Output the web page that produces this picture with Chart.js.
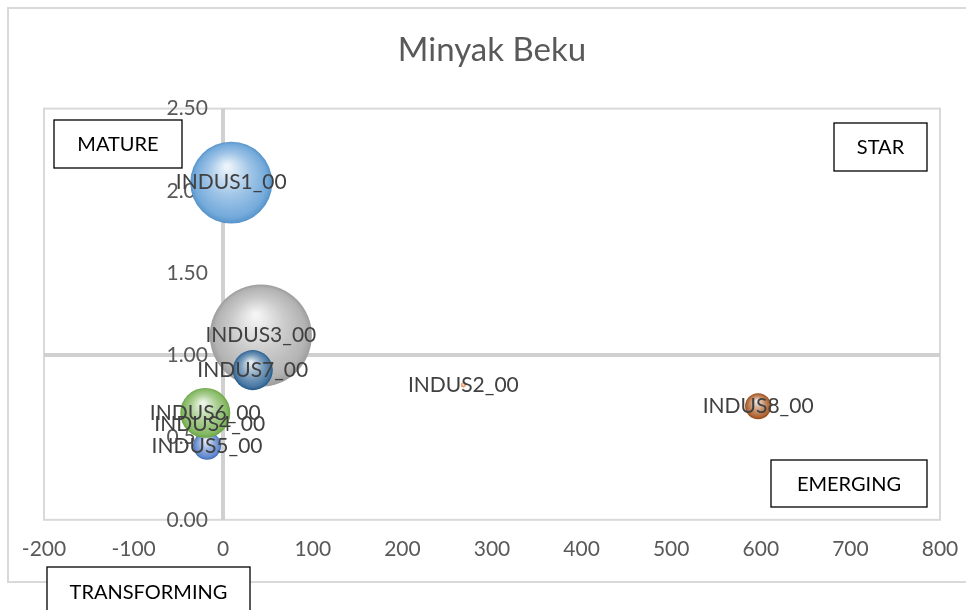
<!DOCTYPE html>
<html>
<head>
<meta charset="utf-8">
<script src="https://cdn.jsdelivr.net/npm/chart.js@4.4.1/dist/chart.umd.min.js"></script>
<style>
  html, body { margin: 0; padding: 0; background: #fff; }
  #wrap { width: 966px; height: 610px; }
</style>
</head>
<body>
<div id="wrap"><canvas id="bubbleChart" width="966" height="610"></canvas></div>
<script>
// values
const industries = ['INDUS1_00', 'INDUS2_00', 'INDUS3_00', 'INDUS4_00', 'INDUS5_00', 'INDUS6_00', 'INDUS7_00', 'INDUS8_00'];
const xValues = [9, 268, 42, -15, -18, -20, 33, 597];
const yValues = [2.05, 0.82, 1.12, 0.58, 0.45, 0.65, 0.91, 0.69];
const sizes = [64.6, 0.24, 100, 3.1, 7.5, 24, 15.4, 6.5];
const seriesColors = ['#5B9BD5', '#ED7D31', '#A5A5A5', '#FFC000', '#4472C4', '#70AD47', '#255E91', '#9E480E'];
const xTicks = [-200, -100, 0, 100, 200, 300, 400, 500, 600, 700, 800];
const yTicks = [0, 0.5, 1, 1.5, 2, 2.5];
const quadrants = ['MATURE', 'STAR', 'EMERGING', 'TRANSFORMING'];

const FONT = "Lato, 'Open Sans', sans-serif";
const PLOT_LEFT = 44, PLOT_RIGHT = 940;

function mix(hex, target, t) {
    const n = parseInt(hex.slice(1), 16);
    const r = (n >> 16) & 255, g = (n >> 8) & 255, b = n & 255;
    const m = v => Math.round(v + (target - v) * t);
    return `rgb(${m(r)},${m(g)},${m(b)})`;
}

// 3D-ish shading like the Excel bubble effect
function sphere(ctx) {
    const base = ctx.dataset.baseColor;
    if (ctx.type !== 'data' || !ctx.raw) return base;
    const sx = ctx.chart.scales.x, sy = ctx.chart.scales.y;
    if (!sx || !sy) return base;
    const px = sx.getPixelForValue(ctx.raw.x);
    const py = sy.getPixelForValue(ctx.raw.y);
    const r = Math.max(ctx.raw.r, 1);
    if (!isFinite(px) || !isFinite(py)) return base;
    const g = ctx.chart.ctx.createRadialGradient(px - 0.1 * r, py - 0.4 * r, r * 0.05, px, py, r);
    g.addColorStop(0, mix(base, 255, 0.88));
    g.addColorStop(0.5, mix(base, 255, 0.42));
    g.addColorStop(0.88, mix(base, 255, 0.15));
    g.addColorStop(1, mix(base, 0, 0.05));
    return g;
}

const datasets = industries.map((name, i) => ({
    label: name,
    data: [{ x: xValues[i], y: yValues[i], r: Math.sqrt(sizes[i]) * 5.1 }],
    baseColor: seriesColors[i],
    backgroundColor: sphere,
    borderWidth: 0,
    order: industries.length - i
}));

const decor = {
    id: 'decor',
    // pin the plot area to the same width as the Excel original
    afterLayout(chart) {
        const a = chart.chartArea, xs = chart.scales.x;
        a.left = PLOT_LEFT;
        a.right = PLOT_RIGHT;
        a.width = PLOT_RIGHT - PLOT_LEFT;
        xs.left = PLOT_LEFT;
        xs.right = PLOT_RIGHT;
        xs.width = PLOT_RIGHT - PLOT_LEFT;
        xs.configure();
    },
    beforeDraw(chart) {
        const c = chart.ctx;
        c.save();
        c.fillStyle = '#fff';
        c.fillRect(0, 0, chart.width, chart.height);
        c.strokeStyle = '#d9d9d9';
        c.lineWidth = 2;
        c.strokeRect(8, 8, chart.width + 20, 574);
        const a = chart.chartArea;
        c.strokeStyle = '#d9d9d9';
        c.lineWidth = 2;
        c.strokeRect(a.left, a.top, a.right - a.left, a.bottom - a.top);
        c.restore();
    },
    afterDraw(chart) {
        const c = chart.ctx;
        c.save();
        // data labels centred on the bubbles
        c.font = `21px ${FONT}`;
        c.fillStyle = '#404040';
        c.textAlign = 'center';
        c.textBaseline = 'middle';
        chart.data.datasets.forEach((ds, i) => {
            const pt = chart.getDatasetMeta(i).data[0];
            c.fillText(ds.label, pt.x, pt.y);
        });
        // quadrant boxes
        const boxes = [
            [54, 120, 128, 48],
            [834, 123, 93, 48],
            [771, 460, 156, 47],
            [47, 567, 203, 50]
        ];
        c.font = `20px ${FONT}`;
        boxes.forEach(([x, y, w, h], i) => {
            c.fillStyle = '#fff';
            c.fillRect(x, y, w, h);
            c.strokeStyle = '#000';
            c.lineWidth = 1.3;
            c.strokeRect(x, y, w, h);
            c.fillStyle = '#000';
            c.fillText(quadrants[i], x + w / 2, y + h / 2 + 1);
        });
        c.restore();
    }
};

new Chart(document.getElementById('bubbleChart'), {
    type: 'bubble',
    data: { datasets },
    plugins: [decor],
    options: {
        responsive: false,
        devicePixelRatio: 1,
        animation: false,
        events: [],
        layout: { padding: { left: 44, right: 26, top: 0, bottom: 31 } },
        plugins: {
            legend: { display: false },
            tooltip: { enabled: false },
            title: {
                display: true,
                text: 'Minyak Beku',
                color: '#595959',
                font: { family: FONT, size: 33, weight: 'normal' },
                padding: { top: 31, bottom: 38 }
            }
        },
        scales: {
            x: {
                type: 'linear',
                min: -200,
                max: 800,
                z: 1,
                afterBuildTicks: axis => { axis.ticks = xTicks.map(v => ({ value: v })); },
                // only the x = 0 line is shown, as the quadrant divider
                grid: {
                    drawTicks: false,
                    color: ctx => (ctx.tick && ctx.tick.value === 0 ? '#d0d0d0' : 'rgba(0,0,0,0)'),
                    lineWidth: 4
                },
                border: { display: false },
                ticks: {
                    color: '#595959',
                    font: { family: FONT, size: 21 },
                    padding: 17,
                    maxRotation: 0,
                    callback: v => String(v)
                }
            },
            y: {
                type: 'linear',
                position: { x: -17 },
                min: 0,
                max: 2.5,
                z: 1,
                afterBuildTicks: axis => { axis.ticks = yTicks.map(v => ({ value: v })); },
                afterFit: s => { s.width = 0; },
                grid: {
                    drawTicks: false,
                    color: ctx => (ctx.tick && ctx.tick.value === 1 ? '#d0d0d0' : 'rgba(0,0,0,0)'),
                    lineWidth: 4
                },
                border: { display: false },
                ticks: {
                    color: '#595959',
                    font: { family: FONT, size: 21 },
                    callback: v => Number(v).toFixed(2)
                }
            }
        }
    }
});
</script>
</body>
</html>
